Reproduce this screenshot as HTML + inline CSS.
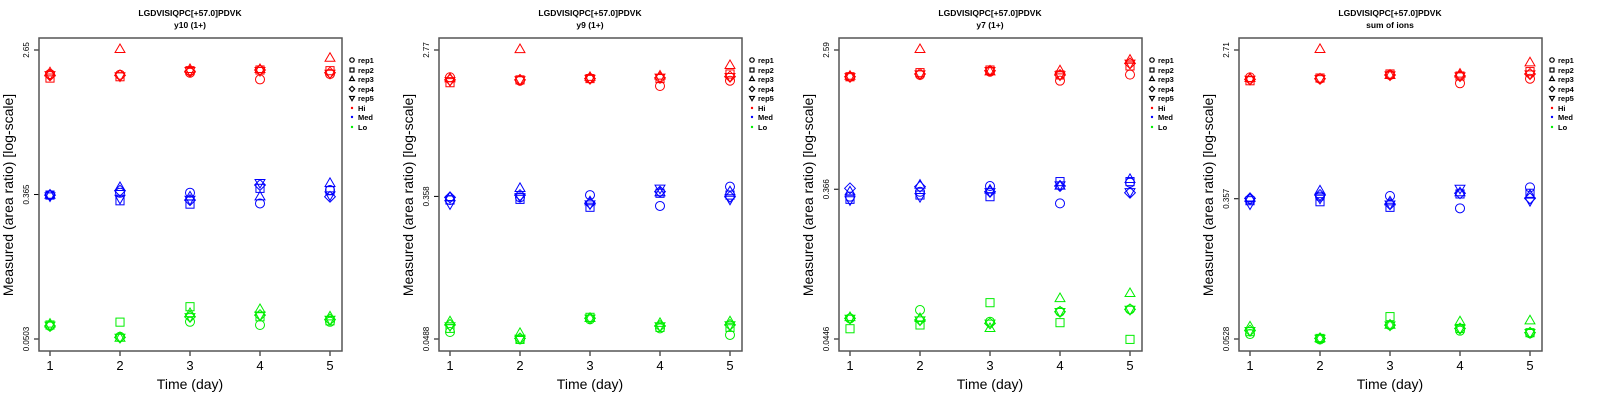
<!DOCTYPE html>
<html><head><meta charset="utf-8">
<style>
html,body{margin:0;padding:0;background:#fff;}
svg{display:block;font-family:"Liberation Sans",sans-serif;}
</style></head>
<body>
<svg id="chart" width="1600" height="400" viewBox="0 0 1600 400" xmlns="http://www.w3.org/2000/svg"></svg>
<script>
// ---- data (log10 of measured area ratio), [panel][day][rep] ----
const days = [1, 2, 3, 4, 5];
const reps = ["rep1", "rep2", "rep3", "rep4", "rep5"];
const levels = ["Hi", "Med", "Lo"];
const panelTitles = ["y10 (1+)", "y9 (1+)", "y7 (1+)", "sum of ions"];
const peptide = "LGDVISIQPC[+57.0]PDVK";
const tickTop = ["2.65", "2.77", "2.59", "2.71"];
const tickMid = ["0.365", "0.358", "0.366", "0.357"];
const tickBot = ["0.0503", "0.0488", "0.0446", "0.0528"];

const hiLog = [
 [[.280,.256,.288,.272,.276],[.276,.264,.427,.272,.268],[.288,.300,.308,.296,.300],[.248,.304,.308,.304,.300],[.280,.300,.375,.288,.284]],
 [[.277,.244,.269,.261,.256],[.256,.261,.446,.261,.261],[.271,.269,.277,.269,.269],[.224,.269,.285,.273,.277],[.256,.297,.349,.281,.281]],
 [[.250,.250,.254,.250,.250],[.261,.275,.417,.267,.267],[.281,.291,.281,.287,.287],[.226,.261,.287,.261,.261],[.263,.316,.352,.332,.332]],
 [[.271,.251,.265,.259,.259],[.263,.267,.437,.263,.263],[.285,.291,.283,.285,.285],[.236,.279,.291,.279,.279],[.263,.305,.358,.291,.291]]
];
const medLog = [
 [[-.441,-.441,-.441,-.441,-.447],[-.427,-.475,-.395,-.415,-.461],[-.427,-.495,-.451,-.471,-.467],[-.491,-.401,-.451,-.381,-.367],[-.411,-.415,-.371,-.451,-.441]],
 [[-.468,-.468,-.452,-.452,-.492],[-.452,-.464,-.397,-.438,-.448],[-.438,-.512,-.478,-.488,-.492],[-.504,-.427,-.423,-.417,-.397],[-.387,-.438,-.417,-.448,-.464]],
 [[-.482,-.498,-.452,-.431,-.502],[-.452,-.472,-.411,-.421,-.482],[-.417,-.482,-.441,-.452,-.452],[-.523,-.390,-.417,-.417,-.411],[-.397,-.390,-.376,-.458,-.452]],
 [[-.451,-.459,-.445,-.445,-.479],[-.435,-.465,-.400,-.425,-.445],[-.431,-.498,-.465,-.479,-.479],[-.504,-.419,-.411,-.415,-.386],[-.380,-.415,-.425,-.445,-.459]]
];
const loLog = [
 [[-1.221,-1.215,-1.209,-1.221,-1.217],[-1.285,-1.198,-1.293,-1.289,-1.289],[-1.196,-1.106,-1.146,-1.166,-1.166],[-1.215,-1.166,-1.122,-1.156,-1.156],[-1.196,-1.190,-1.166,-1.182,-1.182]],
 [[-1.269,-1.247,-1.206,-1.226,-1.232],[-1.314,-1.314,-1.277,-1.308,-1.308],[-1.192,-1.180,-1.186,-1.186,-1.186],[-1.247,-1.241,-1.216,-1.232,-1.232],[-1.287,-1.241,-1.206,-1.226,-1.226]],
 [[-1.225,-1.288,-1.219,-1.225,-1.225],[-1.174,-1.265,-1.225,-1.235,-1.235],[-1.245,-1.129,-1.286,-1.255,-1.255],[-1.184,-1.251,-1.103,-1.184,-1.184],[-1.170,-1.353,-1.072,-1.170,-1.170]],
 [[-1.248,-1.234,-1.205,-1.228,-1.228],[-1.280,-1.274,-1.274,-1.274,-1.274],[-1.195,-1.145,-1.195,-1.195,-1.195],[-1.228,-1.215,-1.175,-1.215,-1.215],[-1.244,-1.240,-1.169,-1.240,-1.240]]
];
const levelColors = ["#ff0000", "#0000ff", "#00ee00"];

const svg = document.getElementById('chart');
const NS = "http://www.w3.org/2000/svg";
function mk(tag, attrs, parent, text) {
  const e = document.createElementNS(NS, tag);
  for (const k in attrs) e.setAttribute(k, attrs[k]);
  if (text !== undefined) e.textContent = text;
  (parent || svg).appendChild(e);
  return e;
}
function marker(shape, cx, cy, r, color, parent) {
  const common = {fill: "none", stroke: color, "stroke-width": 1};
  let e;
  if (shape === 0) e = mk("circle", Object.assign({cx: cx, cy: cy, r: r}, common), parent);
  else if (shape === 1) e = mk("rect", Object.assign({x: cx - r * 0.9, y: cy - r * 0.9, width: r * 1.8, height: r * 1.8}, common), parent);
  else if (shape === 2) e = mk("polygon", Object.assign({points: `${cx},${cy - r * 1.2} ${cx + r * 1.1},${cy + r * 0.7} ${cx - r * 1.1},${cy + r * 0.7}`}, common), parent);
  else if (shape === 3) e = mk("polygon", Object.assign({points: `${cx},${cy - r * 1.2} ${cx + r * 1.2},${cy} ${cx},${cy + r * 1.2} ${cx - r * 1.2},${cy}`}, common), parent);
  else e = mk("polygon", Object.assign({points: `${cx},${cy + r * 1.2} ${cx + r * 1.1},${cy - r * 0.7} ${cx - r * 1.1},${cy - r * 0.7}`}, common), parent);
  return e;
}

for (let p = 0; p < 4; p++) {
  const ox = p * 400;
  const g = mk("g", {transform: `translate(${ox},0)`});
  
  
  const lt = Math.log10(parseFloat(tickTop[p]));
  const lb = Math.log10(parseFloat(tickBot[p]));
  const yS = v => 339 - (v - lb) / (lt - lb) * 289;
  const xS = d => 50 + (d - 1) * 70;

  let t = mk("text", {x: 190, y: 16, "text-anchor": "middle", "font-size": 8.5, "font-weight": "bold"}, g, peptide);
  
  
  t = mk("text", {x: 190, y: 28, "text-anchor": "middle", "font-size": 8.5, "font-weight": "bold"}, g, panelTitles[p]);
  
  

  // x axis
  for (let i = 0; i < days.length; i++) {
    const x = xS(days[i]);
    mk("line", {x1: x, y1: 351, x2: x, y2: 356, stroke: "#000", "stroke-width": 1}, g);
    const tl = mk("text", {x: x, y: 370, "text-anchor": "middle", "font-size": 13}, g, String(days[i]));
    
    
  }
  t = mk("text", {x: 190, y: 389, "text-anchor": "middle", "font-size": 14}, g, "Time (day)");
  
  

  // y axis
  const yt = [[lt, tickTop[p]], [Math.log10(parseFloat(tickMid[p])), tickMid[p]], [lb, tickBot[p]]];
  yt.forEach(([v, lab]) => {
    const y = yS(v);
    mk("line", {x1: 34, y1: y, x2: 39, y2: y, stroke: "#000", "stroke-width": 1}, g);
    const tl = mk("text", {x: 0, y: 0, transform: `translate(29,${y}) rotate(-90)`, "text-anchor": "middle", "font-size": 8}, g, lab);
    
    
  });
  t = mk("text", {x: 0, y: 0, transform: "translate(13,195) rotate(-90)", "text-anchor": "middle", "font-size": 14}, g, "Measured (area ratio) [log-scale]");
  
  

  // points
  const sets = [hiLog[p], medLog[p], loLog[p]];
  for (let l = 0; l < 3; l++) {
    for (let d = 0; d < days.length; d++) {
      for (let r = 0; r < reps.length; r++) {
        const m = marker(r, xS(days[d]), yS(sets[l][d][r]), 4.5, levelColors[l], g);
        
        
      }
    }
  }

  const box = mk("rect", {x: 39, y: 38, width: 303, height: 313, fill: "none", stroke: "#555", "stroke-width": 1.5}, g);
  
  

  // legend
  const lg = mk("g", {}, g);
  
  
  const rowY = [60, 70, 79, 89, 98, 108, 117, 127];
  for (let r = 0; r < reps.length; r++) {
    const m = marker(r, 352, rowY[r], 2.2, "#000", lg);
    m.setAttribute('stroke-width', 1.2);
    const tl = mk("text", {x: 358, y: rowY[r] + 3, "font-size": 7.5, "font-weight": "bold"}, lg, reps[r]);
    
    
  }
  for (let l = 0; l < 3; l++) {
    mk("circle", {cx: 352, cy: rowY[5 + l], r: 1.2, fill: levelColors[l]}, lg);
    const tl = mk("text", {x: 358, y: rowY[5 + l] + 3, "font-size": 7.5, "font-weight": "bold"}, lg, levels[l]);
    
    
  }
}
</script>
</body></html>
